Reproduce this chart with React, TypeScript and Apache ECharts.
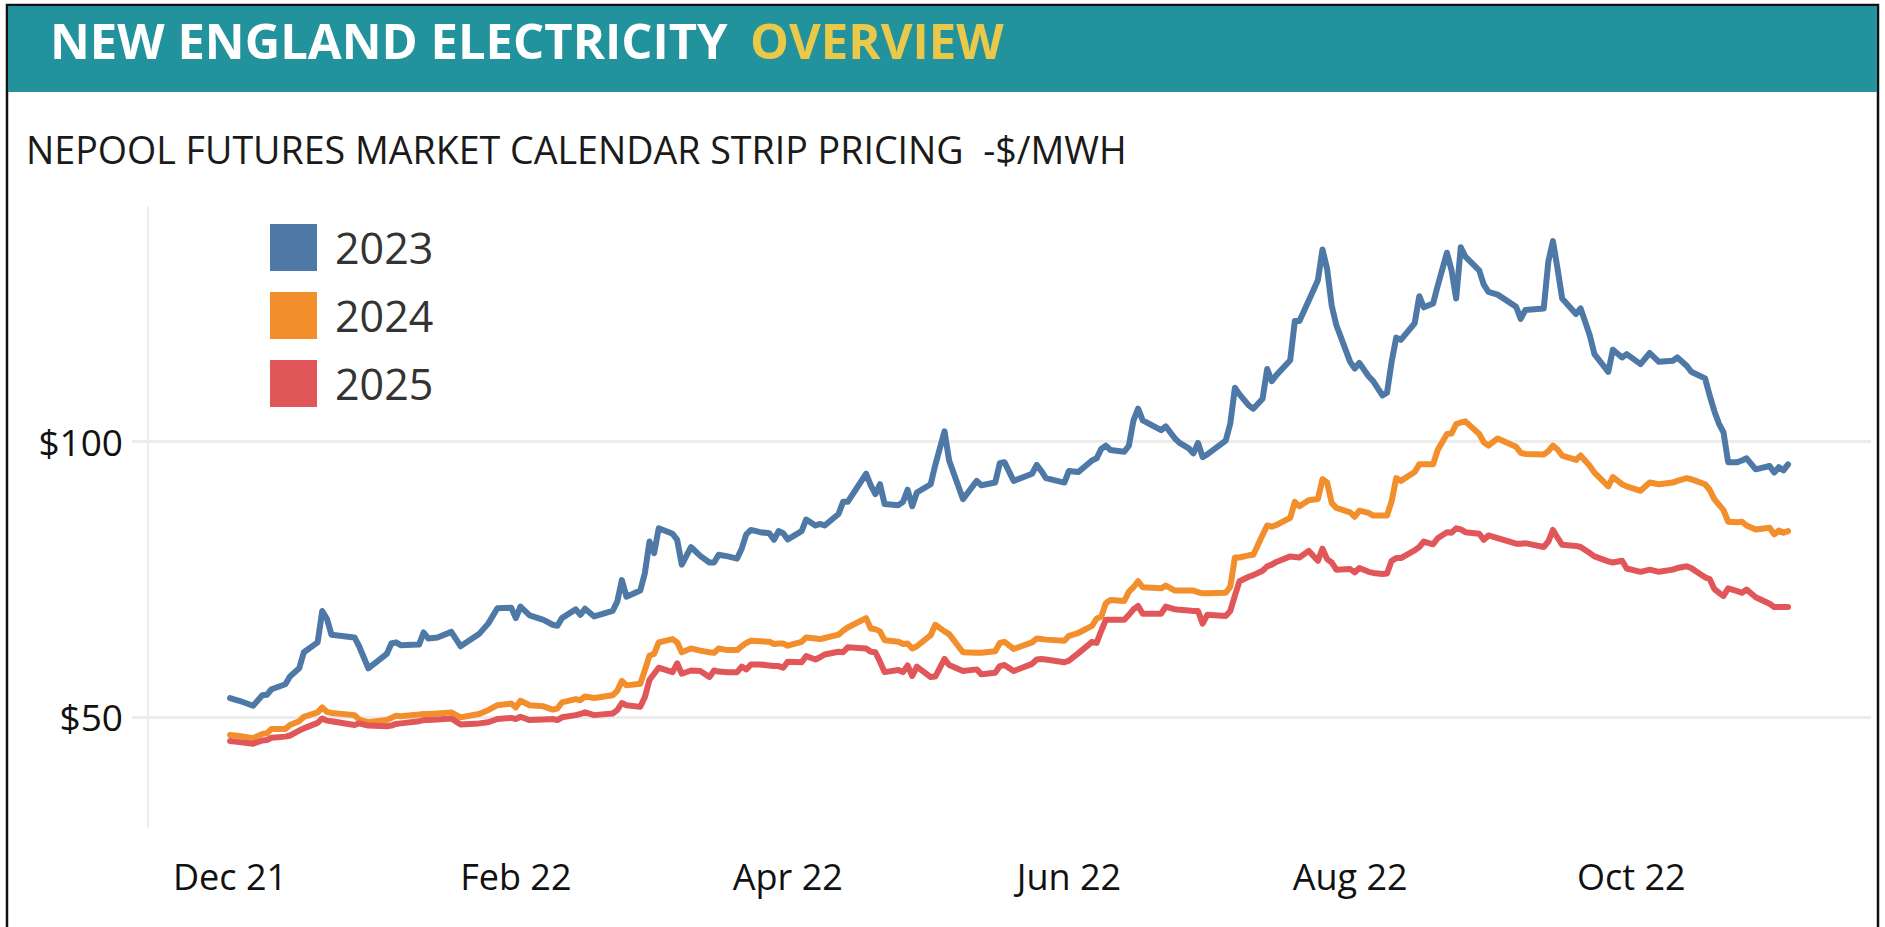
import React, { useEffect, useRef } from "react";
import * as echarts from "echarts";

// ---- data ----
const dates = [
  "2021-12-01","2021-12-03","2021-12-06","2021-12-08","2021-12-09","2021-12-10","2021-12-13","2021-12-14","2021-12-16","2021-12-17",
  "2021-12-20","2021-12-21","2021-12-22","2021-12-23","2021-12-28","2021-12-29","2021-12-31","2022-01-04","2022-01-05","2022-01-06",
  "2022-01-07","2022-01-11","2022-01-12","2022-01-13","2022-01-15","2022-01-18","2022-01-20","2022-01-24","2022-01-26","2022-01-28",
  "2022-01-31","2022-02-01","2022-02-02","2022-02-04","2022-02-07","2022-02-09","2022-02-10","2022-02-11","2022-02-14","2022-02-15",
  "2022-02-16","2022-02-18","2022-02-22","2022-02-23","2022-02-24","2022-02-25","2022-02-28","2022-03-01","2022-03-02","2022-03-03",
  "2022-03-04","2022-03-07","2022-03-08","2022-03-09","2022-03-11","2022-03-13","2022-03-15","2022-03-16","2022-03-17","2022-03-19",
  "2022-03-21","2022-03-22","2022-03-23","2022-03-24","2022-03-26","2022-03-28","2022-03-29","2022-03-30","2022-03-31","2022-04-01",
  "2022-04-04","2022-04-05","2022-04-07","2022-04-08","2022-04-09","2022-04-12","2022-04-13","2022-04-14","2022-04-18","2022-04-19",
  "2022-04-20","2022-04-21","2022-04-22","2022-04-25","2022-04-26","2022-04-27","2022-04-28","2022-04-29","2022-05-02","2022-05-03",
  "2022-05-05","2022-05-06","2022-05-09","2022-05-12","2022-05-13","2022-05-16","2022-05-17","2022-05-18","2022-05-20","2022-05-24",
  "2022-05-25","2022-05-26","2022-05-27","2022-05-31","2022-06-01","2022-06-03","2022-06-06","2022-06-07","2022-06-08","2022-06-09",
  "2022-06-10","2022-06-13","2022-06-14","2022-06-15","2022-06-16","2022-06-17","2022-06-21","2022-06-22","2022-06-24","2022-06-25",
  "2022-06-27","2022-06-28","2022-06-29","2022-06-30","2022-07-01","2022-07-05","2022-07-06","2022-07-07","2022-07-08","2022-07-10",
  "2022-07-11","2022-07-13","2022-07-14","2022-07-15","2022-07-16","2022-07-19","2022-07-20","2022-07-21","2022-07-23","2022-07-25",
  "2022-07-26","2022-07-27","2022-07-28","2022-07-29","2022-08-01","2022-08-02","2022-08-03","2022-08-05","2022-08-06","2022-08-08",
  "2022-08-09","2022-08-10","2022-08-11","2022-08-12","2022-08-15","2022-08-16","2022-08-17","2022-08-19","2022-08-20","2022-08-22",
  "2022-08-23","2022-08-24","2022-08-25","2022-08-26","2022-08-29","2022-08-30","2022-08-31","2022-09-02","2022-09-06","2022-09-07",
  "2022-09-08","2022-09-12","2022-09-13","2022-09-14","2022-09-15","2022-09-16","2022-09-19","2022-09-20","2022-09-22","2022-09-23",
  "2022-09-26","2022-09-27","2022-09-29","2022-09-30","2022-10-03","2022-10-05","2022-10-07","2022-10-10","2022-10-11","2022-10-13",
  "2022-10-14","2022-10-15","2022-10-17","2022-10-18","2022-10-19","2022-10-20","2022-10-21","2022-10-22","2022-10-24","2022-10-25",
  "2022-10-26","2022-10-28","2022-10-31","2022-11-01","2022-11-02","2022-11-03","2022-11-04"
];

const price2023 = [
  53.4,52.9,52.0,53.9,54.0,55.0,55.9,57.3,58.8,61.7,
  63.5,69.2,67.8,64.9,64.4,62.8,58.8,61.4,63.3,63.5,
  63.0,63.1,65.3,64.2,64.4,65.4,62.8,65.0,66.9,69.7,
  69.8,67.9,70.0,68.4,67.6,66.7,66.5,67.9,69.5,68.5,
  69.6,68.2,69.2,70.9,74.8,71.8,72.9,76.1,81.8,79.7,
  84.2,83.2,82.1,77.6,80.8,79.2,78.0,78.0,79.4,79.1,
  78.7,80.5,83.1,83.9,83.5,83.3,82.1,83.7,83.3,82.2,
  83.7,85.8,84.7,85.0,84.7,86.8,89.0,89.0,94.1,92.0,
  90.4,92.2,88.6,88.4,89.0,91.2,88.2,90.7,92.2,95.7,
  101.8,96.5,89.5,92.8,92.0,92.5,96.0,96.2,92.8,94.1,
  95.7,94.6,93.3,92.5,94.6,94.4,96.5,96.9,98.6,99.2,
  98.4,98.1,99.2,103.8,105.9,103.8,102.0,102.7,100.5,99.7,
  98.7,97.8,99.7,97.1,97.6,100.1,103.2,109.7,108.5,106.5,
  105.9,107.7,113.1,110.9,112.0,114.7,121.8,121.8,125.5,129.2,
  134.8,131.3,124.6,121.1,114.4,113.2,114.2,111.8,110.9,108.3,
  108.8,114.4,118.8,118.4,121.4,126.3,124.3,125.0,128.2,134.2,
  131.0,125.9,135.2,133.5,131.0,128.4,127.1,126.6,124.4,122.2,
  123.8,124.1,132.6,136.3,131.3,125.9,123.1,124.1,119.2,115.8,
  112.6,116.6,115.2,115.8,114.0,116.0,114.4,114.6,115.2,113.7,
  112.6,112.2,111.4,108.3,105.5,103.2,101.6,96.2,96.2,96.5,
  96.9,94.9,95.5,94.3,95.3,94.7,95.8
];

const price2024 = [
  46.7,46.5,46.1,46.9,47.0,47.8,47.8,48.5,49.2,50.0,
  50.8,51.7,50.9,50.7,50.3,49.5,49.0,49.4,49.8,50.2,
  50.1,50.4,50.5,50.5,50.6,50.8,49.9,50.5,51.2,52.1,
  52.4,51.7,52.9,52.1,51.9,51.3,51.5,52.6,53.2,53.0,
  53.7,53.4,53.9,54.7,56.5,55.7,56.0,58.5,61.1,61.4,
  63.5,64.1,63.5,61.7,62.4,62.0,61.7,61.6,62.4,62.1,
  62.1,62.8,63.4,63.8,63.7,63.6,63.2,63.3,63.3,62.9,
  63.6,64.4,64.2,64.1,64.3,64.9,65.6,66.2,67.9,66.0,
  65.9,65.5,63.9,63.6,63.2,63.3,62.4,62.8,64.8,66.7,
  65.5,65.0,61.7,61.6,61.6,61.9,63.4,63.6,62.3,63.5,
  64.2,64.1,64.0,63.8,64.7,65.2,66.5,67.8,68.2,70.6,
  71.2,71.0,72.7,73.5,74.6,73.5,73.3,73.8,72.9,72.9,
  72.9,72.9,72.6,72.4,72.4,72.5,73.6,78.9,78.9,79.3,
  79.4,83.0,84.7,84.5,84.8,86.1,89.0,88.2,89.3,89.5,
  93.1,92.5,88.8,87.9,87.1,86.3,87.4,87.0,86.5,86.5,
  86.5,89.1,93.3,92.8,94.4,95.8,95.8,95.8,98.4,101.3,
  101.4,103.1,103.4,103.6,101.3,99.8,99.2,100.5,99.0,97.9,
  97.7,97.6,98.2,99.2,98.5,97.4,96.6,97.4,95.5,94.3,
  91.8,93.5,92.2,91.8,91.0,92.5,92.2,92.5,92.8,93.3,
  93.1,92.8,92.2,91.2,89.5,88.5,87.5,85.4,85.3,85.4,
  84.7,84.0,84.3,83.1,83.8,83.4,83.7
];

const price2025 = [
  45.6,45.4,45.1,45.7,45.8,46.2,46.4,46.6,47.5,47.9,
  48.9,49.7,49.3,49.2,48.5,48.8,48.4,48.3,48.4,48.7,
  48.8,49.2,49.4,49.4,49.5,49.7,48.6,48.8,49.0,49.6,
  49.8,49.6,50.0,49.4,49.5,49.6,49.4,49.9,50.3,50.5,
  50.8,50.3,50.6,51.2,52.5,52.1,51.8,53.6,56.7,57.8,
  58.9,58.1,59.7,57.8,58.4,58.3,57.2,58.4,58.2,58.1,
  58.1,59.1,58.6,59.5,59.5,59.3,59.2,59.2,58.9,60.0,
  59.9,61.0,60.4,60.8,61.3,61.8,61.7,62.6,62.4,61.8,
  61.7,60.0,58.1,58.5,58.1,59.3,57.4,59.1,57.2,57.3,
  60.5,59.4,58.3,58.6,57.7,58.0,59.2,59.4,58.3,59.6,
  60.4,60.5,60.4,59.9,60.2,61.5,63.6,63.4,65.6,67.6,
  67.6,67.6,68.5,69.5,70.1,68.7,68.7,70.0,69.5,69.4,
  69.3,69.2,69.2,66.9,68.5,68.3,69.2,72.0,74.6,75.4,
  75.7,76.5,77.3,77.6,78.1,79.1,79.0,78.9,80.1,78.3,
  80.5,78.6,78.0,76.7,76.8,76.2,77.0,76.3,76.1,75.9,
  76.0,78.3,78.8,78.8,80.2,80.8,81.8,81.3,82.4,83.5,
  83.4,84.2,84.0,83.5,83.2,82.1,82.9,82.4,81.4,81.4,
  81.5,80.8,81.8,83.9,82.5,81.2,81.0,80.8,79.7,79.1,
  78.2,78.0,78.3,76.9,76.3,76.7,76.3,76.7,77.0,77.3,
  77.0,76.4,75.3,75.0,73.2,72.5,71.9,73.3,72.8,72.5,
  73.1,71.7,70.5,69.9,69.9,69.9,69.9
];

const seriesNames = ["2023", "2024", "2025"];
const seriesColors = ["#4E79A7", "#F28E2B", "#E15759"];
const xTickDates = ["2021-12-01", "2022-02-01", "2022-04-01", "2022-06-01", "2022-08-01", "2022-10-01"];
const xTickLabels = ["Dec 21", "Feb 22", "Apr 22", "Jun 22", "Aug 22", "Oct 22"];
const yTickValues = [50, 100];

const DAY = 86400000;
const ORIGIN = "2021-12-01";
function dayIndex(s: string): number {
  const [y, m, d] = s.split("-").map(Number);
  const [y0, m0, d0] = ORIGIN.split("-").map(Number);
  return Math.round((Date.UTC(y, m - 1, d) - Date.UTC(y0, m0 - 1, d0)) / DAY);
}

export default function App() {
  const ref = useRef<HTMLDivElement>(null);

  useEffect(() => {
    document.body.style.margin = "0";
    if (!ref.current) return;
    const chart = echarts.init(ref.current, undefined, { renderer: "svg" });

    const seriesValues = [price2023, price2024, price2025];
    const tickDays = xTickDates.map(dayIndex);

    const option: any = {
      animation: false,
      backgroundColor: "#ffffff",
      textStyle: { fontFamily: "Open Sans" },
      grid: { left: 148, right: 14, top: 207, bottom: 100, containLabel: false },
      legend: {
        show: true,
        orient: "vertical",
        left: 270,
        top: 224,
        padding: 0,
        itemWidth: 47,
        itemHeight: 47,
        itemGap: 21,
        icon: "rect",
        data: seriesNames,
        textStyle: {
          fontFamily: "Open Sans",
          fontSize: 43,
          color: "#333333",
          padding: [0, 0, 0, 13],
        },
      },
      xAxis: {
        type: "value",
        min: -17.8,
        max: 356,
        axisLine: { show: false, onZero: false },
        axisTick: { show: false, customValues: tickDays },
        splitLine: { show: false },
        axisLabel: {
          customValues: tickDays,
          margin: 31,
          fontSize: 36,
          fontFamily: "Open Sans",
          color: "#111111",
          formatter: (v: number) => {
            const i = tickDays.findIndex((t) => Math.abs(t - v) < 0.5);
            return i >= 0 ? xTickLabels[i] : "";
          },
        },
      },
      yAxis: {
        type: "value",
        min: 30,
        max: 142.5,
        axisLine: { show: true, onZero: false, lineStyle: { color: "#ececec", width: 2 } },
        axisTick: {
          show: true,
          customValues: yTickValues,
          length: 16,
          lineStyle: { color: "#ececec", width: 3 },
        },
        splitLine: { show: true, lineStyle: { color: "#ececec", width: 3 } },
        axisLabel: {
          customValues: yTickValues,
          margin: 25,
          fontSize: 37,
          fontFamily: "Open Sans",
          color: "#111111",
          formatter: (v: number) => "$" + v,
        },
      },
      series: seriesNames.map((name, k) => ({
        name,
        type: "line",
        color: seriesColors[k],
        showSymbol: false,
        symbol: "none",
        lineStyle: { width: 6, color: seriesColors[k], cap: "round", join: "round" },
        data: dates.map((d, i) => [dayIndex(d), seriesValues[k][i]]),
      })),
      graphic: [
        {
          type: "rect",
          silent: true,
          z: 0,
          shape: { x: 7, y: 5, width: 1871, height: 940 },
          style: { fill: "none", stroke: "#111111", lineWidth: 2.5 },
        },
        {
          type: "rect",
          silent: true,
          z: 1,
          shape: { x: 8, y: 6, width: 1869, height: 86 },
          style: { fill: "#22929c" },
        },
        {
          type: "text",
          z: 2,
          x: 50,
          y: 40,
          style: {
            text: "NEW ENGLAND ELECTRICITY",
            fill: "#ffffff",
            font: "bold 49px 'Open Sans'",
            verticalAlign: "middle",
            align: "left",
          },
        },
        {
          type: "text",
          z: 2,
          x: 750,
          y: 40,
          style: {
            text: "OVERVIEW",
            fill: "#E9C84A",
            font: "bold 49px 'Open Sans'",
            verticalAlign: "middle",
            align: "left",
          },
        },
        {
          type: "text",
          z: 2,
          x: 26,
          y: 149,
          style: {
            text: "NEPOOL FUTURES MARKET CALENDAR STRIP PRICING  -$/MWH",
            fill: "#1a1a1a",
            font: "500 37.6px 'Open Sans'",
            verticalAlign: "middle",
            align: "left",
          },
        },
      ],
    };

    chart.setOption(option);
    return () => {
      chart.dispose();
    };
  }, []);

  return <div ref={ref} style={{ width: 1885, height: 927 }} />;
}
